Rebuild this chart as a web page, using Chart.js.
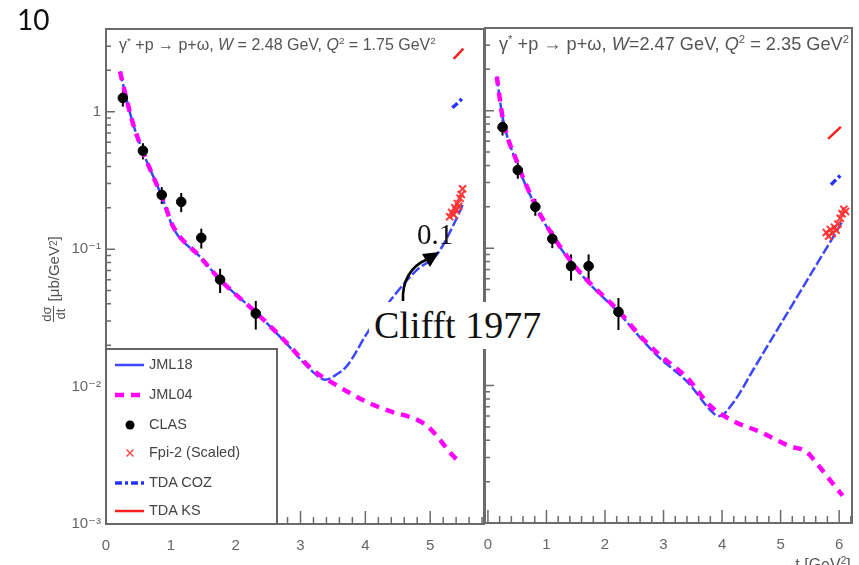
<!DOCTYPE html>
<html>
<head>
<meta charset="utf-8">
<title>gamma* p -> p omega, backward cross sections</title>
<script src="https://cdn.jsdelivr.net/npm/chart.js@4.4.1/dist/chart.umd.min.js"></script>
<style>
  html, body { margin:0; padding:0; width:859px; height:565px; overflow:hidden; background:#fff; }
  .layer { position:absolute; left:0; top:0; }
  .soft { filter: blur(0.7px); }
  .ptitle { position:absolute; top:35px; font-family:"Liberation Sans", Arial, sans-serif; color:#555; white-space:nowrap; }
  .ptitle sup { font-size:62%; }
  #legend { position:absolute; left:105px; top:348px; width:173px; height:177px; box-sizing:border-box;
            border:2px solid #666; background:#fff; }
  #legend .row { position:absolute; left:42px; font:14.5px "Liberation Sans", Arial, sans-serif; color:#444; line-height:15px; }
  #ytitle { position:absolute; left:-12px; top:259px; width:130px; height:40px; transform:rotate(-90deg);
            display:flex; align-items:center; justify-content:center; font:15px "Liberation Sans", Arial, sans-serif; color:#555; }
  #ytitle .frac { display:inline-flex; flex-direction:column; align-items:center; font-size:13px; line-height:13px; margin-right:5px; }
  #ytitle .frac span:first-child { border-bottom:1px solid #555; }
  #xtitle { position:absolute; left:790px; top:555px; font:16px "Liberation Sans", Arial, sans-serif; color:#555; }
  #pageNo { position:absolute; left:17px; top:2px; font:28px Lato, "Open Sans", sans-serif; color:#111; }
  #valueTag { position:absolute; left:417px; top:218px; font:29px "Liberation Serif", "DejaVu Serif", serif; color:#111; }
  #refTag { position:absolute; left:369px; top:302px; width:178px; height:47px; background:#fff;
            font:38px "Liberation Serif", "DejaVu Serif", serif; color:#111; line-height:47px; padding-left:5px; box-sizing:border-box; white-space:nowrap; }
</style>
</head>
<body>
<canvas id="leftPanel" class="layer soft" width="859" height="565"></canvas>
<canvas id="rightPanel" class="layer soft" width="859" height="565"></canvas>

<div class="ptitle soft" style="left:119px;font-size:16px">&gamma;<sup>*</sup> +p &rarr; p+&omega;, <i>W</i> = 2.48 GeV, <i>Q</i><sup>2</sup> = 1.75 GeV<sup>2</sup></div>
<div class="ptitle soft" style="left:499px;font-size:18.2px;top:33px">&gamma;<sup>*</sup> +p &rarr; p+&omega;, <i>W</i>=2.47 GeV, <i>Q</i><sup>2</sup> = 2.35 GeV<sup>2</sup></div>

<div id="ytitle" class="soft"><span class="frac"><span>d&sigma;</span><span>dt</span></span>[&mu;b/GeV<sup style="font-size:10px">2</sup>]</div>
<div id="xtitle" class="soft">-t [GeV<sup style="font-size:10px">2</sup>]</div>

<div id="legend" class="soft">
  <svg width="169" height="173" style="position:absolute;left:0;top:0">
    <line x1="8" y1="15" x2="37" y2="15" stroke="rgb(60,70,255)" stroke-width="2.5"/>
    <line x1="8" y1="45" x2="37" y2="45" stroke="#ff00ff" stroke-width="4.5" stroke-dasharray="9,7"/>
    <circle cx="23" cy="75" r="4.5" fill="#000"/>
    <g stroke="rgb(255,80,80)" stroke-width="1.6"><line x1="19.5" y1="99.5" x2="26.5" y2="106.5"/><line x1="26.5" y1="99.5" x2="19.5" y2="106.5"/></g>
    <line x1="8" y1="133" x2="37" y2="133" stroke="rgb(40,50,255)" stroke-width="3.5" stroke-dasharray="7,3,3,3"/>
    <line x1="8" y1="161" x2="37" y2="161" stroke="rgb(255,30,30)" stroke-width="2.5"/>
  </svg>
  <div class="row" style="top:7px">JML18</div>
  <div class="row" style="top:37px">JML04</div>
  <div class="row" style="top:67px">CLAS</div>
  <div class="row" style="top:95px">Fpi-2 (Scaled)</div>
  <div class="row" style="top:125px">TDA COZ</div>
  <div class="row" style="top:153px">TDA KS</div>
</div>

<div id="pageNo">10</div>
<div id="valueTag">0.1</div>
<div id="refTag">Clifft 1977</div>
<svg class="layer" width="859" height="565" style="pointer-events:none">
  <path d="M403 301 C402 282 410 266 428 259" fill="none" stroke="#000" stroke-width="2.6"/>
  <polygon points="439,252 422,254 430,267" fill="#000"/>
</svg>

<script>
// axis ticks
const yTickVals = [0.001, 0.01, 0.1, 1];
const yTickLabels = ['10\u207B\u00B3', '10\u207B\u00B2', '10\u207B\u00B9', '1'];
const xTickValsLeft = [0, 1, 2, 3, 4, 5];
const xTickValsRight = [0, 1, 2, 3, 4, 5, 6];

// ===== W = 2.48 GeV, Q2 = 1.75 GeV2 =====
const jml18T_L = [0.216, 0.40, 0.57, 0.88, 1.03, 1.45, 1.76, 2.33, 2.73, 3.19, 3.38, 3.55, 3.72, 4.03, 4.43, 4.8, 5.1, 5.42, 5.5];
const jml18V_L = [1.96, 0.87, 0.51, 0.229, 0.145, 0.088, 0.060, 0.034, 0.0219, 0.0128, 0.0112, 0.0122, 0.0142, 0.0246, 0.045, 0.071, 0.091, 0.172, 0.21];
const jml04T_L = [0.216, 0.40, 0.57, 0.88, 1.03, 1.45, 1.76, 2.33, 2.73, 3.19, 3.5, 4.03, 4.43, 4.69, 4.95, 5.15, 5.31, 5.46];
const jml04V_L = [1.96, 0.87, 0.51, 0.229, 0.148, 0.088, 0.060, 0.034, 0.0222, 0.0132, 0.0106, 0.0077, 0.0065, 0.0060, 0.0052, 0.0041, 0.0033, 0.00278];
const clasT_L = [0.26, 0.57, 0.86, 1.16, 1.47, 1.76, 2.31];
const clasV_L = [1.26, 0.52, 0.248, 0.221, 0.121, 0.060, 0.034];
const clasE_L = [0.17, 0.07, 0.035, 0.035, 0.02, 0.012, 0.008];
const fpiT_L = [5.30, 5.33, 5.36, 5.38, 5.40, 5.42, 5.44, 5.46, 5.48, 5.50];
const fpiV_L = [0.172, 0.185, 0.178, 0.200, 0.192, 0.215, 0.205, 0.235, 0.250, 0.275];
const cozT_L = [5.34, 5.40, 5.46, 5.51];
const cozV_L = [1.07, 1.13, 1.20, 1.29];
const ksT_L = [5.36, 5.44, 5.51];
const ksV_L = [2.43, 2.65, 2.88];

// ===== W = 2.47 GeV, Q2 = 2.35 GeV2 =====
const jml18T_R = [0.152, 0.25, 0.51, 0.81, 1.10, 1.42, 1.72, 2.23, 2.62, 2.9, 3.41, 3.87, 3.95, 4.2, 4.54, 4.88, 5.22, 5.56, 5.9, 6.05];
const jml18V_R = [1.77, 0.90, 0.40, 0.203, 0.123, 0.079, 0.056, 0.034, 0.0219, 0.0164, 0.0106, 0.0062, 0.0060, 0.0076, 0.0132, 0.0230, 0.040, 0.0695, 0.121, 0.155];
const jml04T_R = [0.152, 0.25, 0.51, 0.81, 1.10, 1.42, 1.72, 2.23, 2.62, 2.9, 3.41, 3.8, 4.2, 4.65, 5.15, 5.44, 5.6, 5.83, 6.06];
const jml04V_R = [1.77, 0.90, 0.41, 0.206, 0.125, 0.080, 0.057, 0.035, 0.0225, 0.0172, 0.0113, 0.0071, 0.0055, 0.0046, 0.00363, 0.0033, 0.00278, 0.00209, 0.00158];
const clasT_R = [0.25, 0.51, 0.81, 1.10, 1.42, 1.72, 2.23];
const clasV_R = [0.76, 0.37, 0.20, 0.117, 0.074, 0.074, 0.0344];
const clasE_R = [0.10, 0.05, 0.028, 0.017, 0.016, 0.016, 0.009];
const fpiT_R = [5.78, 5.82, 5.85, 5.88, 5.92, 5.95, 5.98, 6.02, 6.05, 6.08, 6.11];
const fpiV_R = [0.130, 0.122, 0.137, 0.128, 0.142, 0.135, 0.150, 0.165, 0.178, 0.192, 0.185];
const cozT_R = [5.86, 5.95, 6.03];
const cozV_R = [0.29, 0.315, 0.342];
const ksT_R = [5.81, 5.92, 6.03];
const ksV_R = [0.625, 0.69, 0.764];

const pts = (ts, vs) => ts.map((t, i) => ({x: t, y: vs[i]}));

// error bars for the CLAS points, drawn under the markers
const errorBars = {
  id: 'errorBars',
  beforeDatasetsDraw(chart) {
    const {ctx, scales: {y}} = chart;
    chart.data.datasets.forEach((ds, i) => {
      if (!ds.errors) return;
      const meta = chart.getDatasetMeta(i);
      ctx.save();
      ctx.strokeStyle = '#000';
      ctx.lineWidth = 2;
      meta.data.forEach((el, j) => {
        const v = ds.data[j].y, e = ds.errors[j];
        ctx.beginPath();
        ctx.moveTo(el.x, y.getPixelForValue(v + e));
        ctx.lineTo(el.x, y.getPixelForValue(v - e));
        ctx.stroke();
      });
      ctx.restore();
    });
  }
};

// frame + inward ticks
const frameTicks = {
  id: 'frameTicks',
  afterDatasetsDraw(chart) {
    const {ctx, chartArea: a, scales: {x, y}} = chart;
    ctx.save();
    ctx.strokeStyle = '#6b6b6b';
    ctx.lineWidth = 1.5;
    ctx.beginPath();
    for (let k = Math.ceil(x.min * 5); k <= x.max * 5; k++) {
      const px = x.getPixelForValue(k / 5);
      const len = k % 5 === 0 ? 13 : 7;
      ctx.moveTo(px, a.bottom); ctx.lineTo(px, a.bottom - len);
    }
    for (let d = -3; d <= 0; d++) {
      for (let m = 1; m <= 9; m++) {
        const v = m * Math.pow(10, d);
        if (v < y.min || v > y.max) continue;
        const py = y.getPixelForValue(v);
        ctx.moveTo(a.left, py); ctx.lineTo(a.left + (m === 1 ? 9 : 5), py);
      }
    }
    ctx.stroke();
    ctx.lineWidth = 2;
    ctx.strokeRect(a.left, a.top, a.right - a.left, a.bottom - a.top);
    ctx.restore();
  }
};

function makePanel(id, d, geo) {
  const line = (label, data, color, width, dash, order) => ({
    label, data, borderColor: color, borderWidth: width, borderDash: dash,
    showLine: true, pointRadius: 0, pointHoverRadius: 0, cubicInterpolationMode: 'monotone', order
  });
  return new Chart(document.getElementById(id), {
    type: 'scatter',
    data: {
      datasets: [
        line('JML18', d.jml18, 'rgb(60,70,255)', 2.5, [10, 3], 3),
        line('JML04', d.jml04, '#ff00ff', 4.5, [9, 7], 2),
        line('TDA COZ', d.coz, 'rgb(40,50,255)', 3.5, [7, 3, 3, 3], 2),
        line('TDA KS', d.ks, 'rgb(255,30,30)', 2.5, [], 2),
        { label: 'CLAS', data: d.clas, errors: d.clasErr, pointRadius: 4.8, pointStyle: 'circle',
          pointBackgroundColor: '#000', pointBorderColor: '#000', order: 0 },
        { label: 'Fpi-2 (Scaled)', data: d.fpi, pointRadius: 5, pointStyle: 'crossRot',
          pointBorderColor: 'rgba(255,50,50,0.95)', pointBorderWidth: 2, order: 1 }
      ]
    },
    options: {
      responsive: false, animation: false, events: [],
      layout: { padding: { top: geo.top, right: geo.right, left: 0, bottom: 0 } },
      plugins: { legend: { display: false }, tooltip: { enabled: false } },
      scales: {
        x: {
          type: 'linear', min: geo.xMin, max: geo.xMax,
          afterFit: s => { s.height = geo.xAxisH; },
          afterBuildTicks: s => { s.ticks = geo.xTicks.map(v => ({value: v})); },
          grid: { display: false, drawTicks: false }, border: { display: false },
          ticks: { color: '#666', font: { family: 'Liberation Sans, Arial, sans-serif', size: 15 }, padding: 13,
                   maxRotation: 0, autoSkip: false, callback: v => String(v) }
        },
        y: {
          type: 'logarithmic', min: 0.001, max: 4,
          afterFit: s => { s.width = geo.yAxisW; },
          afterBuildTicks: s => { s.ticks = yTickVals.map(v => ({value: v})); },
          grid: { display: false, drawTicks: false }, border: { display: false },
          ticks: { display: geo.yLabels, color: '#666', font: { family: 'Liberation Sans, DejaVu Sans, sans-serif', size: 15 },
                   padding: 5, autoSkip: false, callback: v => yTickLabels[yTickVals.indexOf(v)] }
        }
      }
    },
    plugins: [errorBars, frameTicks]
  });
}

makePanel('leftPanel', {
  jml18: pts(jml18T_L, jml18V_L), jml04: pts(jml04T_L, jml04V_L),
  clas: pts(clasT_L, clasV_L), clasErr: clasE_L, fpi: pts(fpiT_L, fpiV_L),
  coz: pts(cozT_L, cozV_L), ks: pts(ksT_L, ksV_L)
}, { top: 29, right: 375, xAxisH: 41, yAxisW: 106, xMin: 0, xMax: 5.83, xTicks: xTickValsLeft, yLabels: true });

makePanel('rightPanel', {
  jml18: pts(jml18T_R, jml18V_R), jml04: pts(jml04T_R, jml04V_R),
  clas: pts(clasT_R, clasV_R), clasErr: clasE_R, fpi: pts(fpiT_R, fpiV_R),
  coz: pts(cozT_R, cozV_R), ks: pts(ksT_R, ksV_R)
}, { top: 28, right: 3, xAxisH: 42, yAxisW: 485, xMin: -0.05, xMax: 6.22, xTicks: xTickValsRight, yLabels: false });
</script>
</body>
</html>
